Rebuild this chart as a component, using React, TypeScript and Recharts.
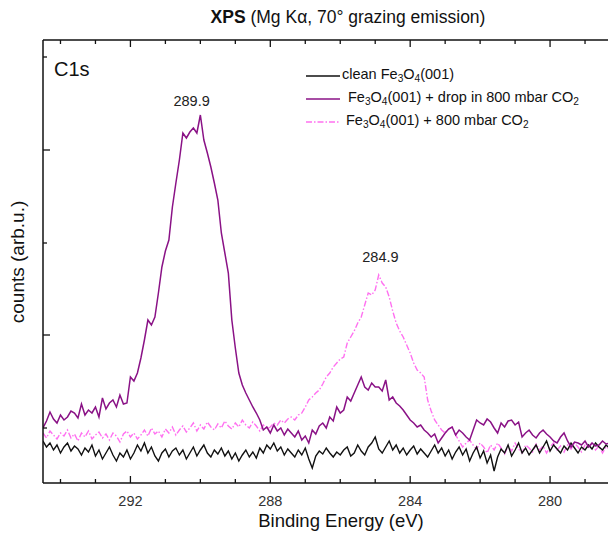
import React from 'react';
import { LineChart, Line, XAxis, YAxis, ReferenceDot } from 'recharts';

// binding energy grid (eV), 0.1 eV steps from 294.5 down to 278.3
const ENERGY_START = 294.5;
const ENERGY_STEP = 0.1;

const cleanFe3O4 = [
  42, 36, 40, 33, 38, 30, 36, 40, 32, 37,
  34, 28, 35, 31, 38, 27, 33, 24, 30, 36,
  28, 22, 30, 26, 33, 24, 30, 38, 32, 40,
  30, 36, 27, 22, 30, 34, 26, 32, 35, 28,
  33, 24, 30, 36, 27, 33, 38, 30, 26, 33,
  29, 35, 27, 32, 24, 30, 22, 28, 33, 26,
  31, 25, 35, 30, 38, 34, 40, 32, 36, 28,
  34, 30, 26, 33, 28, 35, 24, 15, 27, 32,
  29, 35, 30, 26, 31, 28, 33, 36, 27, 30,
  38, 32, 28, 36, 40, 46, 34, 30, 36, 42,
  33, 38, 30, 35, 28, 33, 37, 29, 34, 30,
  26, 32, 38, 30, 35, 27, 33, 24, 31, 36,
  28, 34, 22, 30, 36, 25, 32, 20, 28, 12,
  26, 34, 30, 38, 27, 33, 40, 30, 35, 28,
  33, 38, 30, 36, 42, 32, 38, 34, 30, 37,
  33, 40, 35, 30, 36, 33, 38, 34, 40, 36,
  33, 38, 35,
];

const dropInCO2 = [
  55, 62, 71, 64, 60, 68, 63, 66, 72, 70,
  65, 79, 68, 73, 70, 76, 66, 85, 74, 80,
  83, 76, 88, 79, 80, 106, 102, 110, 125, 143,
  163, 158, 166, 190, 216, 232, 243, 276, 300, 323,
  350, 345, 351, 355, 350, 368, 343, 330, 316, 300,
  283, 250, 230, 210, 163, 135, 110, 98, 90, 83,
  76, 70, 63, 53, 56, 50, 58, 52, 55, 48,
  54, 50, 46, 52, 43, 47, 40, 53, 49, 57,
  60, 55, 66, 62, 76, 70, 73, 86, 82, 90,
  98, 106, 96, 93, 100, 96, 96, 92, 103, 83,
  86, 80, 77, 73, 68, 63, 60, 56, 58, 53,
  50, 46, 49, 40, 45, 50, 54, 56, 48, 53,
  50, 46, 43, 53, 63, 60, 58, 64, 61, 55,
  50, 60, 56, 62, 63, 58, 61, 46, 50, 53,
  48, 45, 50, 53, 49, 46, 42, 40, 46, 50,
  42, 36, 41, 40, 38, 42, 36, 40, 37, 38,
  42, 39, 40,
];

const inCO2 = [
  50, 45, 52, 48, 44, 50, 47, 53, 45, 49,
  42, 50, 46, 52, 44, 48, 51, 45, 49, 43,
  50, 47, 41, 49, 52, 46, 50, 44, 48, 53,
  47, 55, 49, 52, 46, 54, 50, 56, 48, 53,
  57, 51, 55, 60, 52, 58, 54, 61, 56, 53,
  59, 55, 62, 57, 54, 60, 56, 63, 58, 55,
  61, 57, 52, 58, 54, 56, 60, 58, 63, 60,
  64, 66, 63, 68, 70, 76, 83, 86, 90, 93,
  99, 106, 110, 116, 120, 124, 126, 140, 146, 152,
  160, 166, 178, 190, 188, 193, 208, 200, 196, 186,
  172, 160, 152, 146, 138, 130, 120, 113, 110, 106,
  83, 72, 63, 58, 53, 50, 54, 56, 48, 42,
  36, 40, 43, 38, 34, 40, 36, 30, 38, 33,
  40, 35, 29, 37, 32, 40, 34, 30, 38, 35,
  31, 39, 33, 37, 30, 36, 40, 33, 37, 31,
  38, 34, 40, 36, 31, 38, 35, 40, 33, 37,
  30, 36, 34,
];

const X_TICKS = [294, 293, 292, 291, 290, 289, 288, 287, 286, 285, 284, 283, 282, 281, 280, 279];
const X_MAJOR = [292, 288, 284, 280];
const Y_TICKS = [55, 148, 240, 333, 426];
const Y_MAJOR = [148, 333];

const peaks = [
  { label: '289.9', energy: 290.25, counts: 368, offset: 9 },
  { label: '284.9', energy: 284.85, counts: 208, offset: 13 },
];

const data = cleanFe3O4.map((v, i) => ({
  energy: +(ENERGY_START - i * ENERGY_STEP).toFixed(1),
  clean: v,
  drop: dropInCO2[i],
  gas: inCO2[i],
}));

const FONT = '"Liberation Sans", Arial, sans-serif';
const BLACK = '#111111';
const PURPLE = '#8a1286';
const PINK = '#ff70f0';

const BottomTick = (props: any) => {
  const { x, y, payload } = props;
  const major = X_MAJOR.includes(payload.value);
  return (
    <g>
      <line x1={x} x2={x} y1={y} y2={y - (major ? 7 : 4)} stroke={BLACK} strokeWidth={1.3} />
      {major && (
        <text x={x} y={y + 23} textAnchor="middle" fontSize={14.5} fill="#333" fontFamily={FONT}>
          {payload.value}
        </text>
      )}
    </g>
  );
};

const TopTick = (props: any) => {
  const { x, y, payload } = props;
  const major = X_MAJOR.includes(payload.value);
  return <line x1={x} x2={x} y1={y} y2={y + (major ? 7 : 4)} stroke={BLACK} strokeWidth={1.3} />;
};

const LeftTick = (props: any) => {
  const { x, y, payload } = props;
  const major = Y_MAJOR.includes(payload.value);
  return <line x1={x} x2={x + (major ? 7 : 4)} y1={y} y2={y} stroke={BLACK} strokeWidth={1.3} />;
};

const Sub = ({ children }: { children: React.ReactNode }) => (
  <span style={{ fontSize: '0.7em', verticalAlign: '-0.3em' }}>{children}</span>
);

const legendRows = [
  { color: BLACK, dash: undefined, text: <>clean Fe<Sub>3</Sub>O<Sub>4</Sub>(001)</>, indent: 0 },
  { color: PURPLE, dash: undefined, text: <>Fe<Sub>3</Sub>O<Sub>4</Sub>(001) + drop in 800 mbar CO<Sub>2</Sub></>, indent: 6 },
  { color: PINK, dash: '6 2 1.5 2', text: <>Fe<Sub>3</Sub>O<Sub>4</Sub>(001) + 800 mbar CO<Sub>2</Sub></>, indent: 4 },
];

export default function App() {
  return (
    <div style={{ position: 'absolute', left: 0, top: 0, width: 608, height: 537, overflow: 'hidden', background: '#fff', fontFamily: FONT }}>
      <LineChart width={620} height={537} data={data} margin={{ top: 20, right: 0, bottom: 24, left: 13 }}>
        <XAxis
          dataKey="energy"
          type="number"
          domain={[278, 294.5]}
          reversed
          allowDataOverflow
          ticks={X_TICKS}
          interval={0}
          height={30}
          tickSize={0}
          tickMargin={0}
          tickLine={false}
          tick={<BottomTick />}
          axisLine={{ stroke: BLACK, strokeWidth: 1.5 }}
        />
        <XAxis
          xAxisId="top"
          orientation="top"
          dataKey="energy"
          type="number"
          domain={[278, 294.5]}
          reversed
          allowDataOverflow
          ticks={X_TICKS}
          interval={0}
          height={20}
          tickSize={0}
          tickMargin={0}
          tickLine={false}
          tick={<TopTick />}
          axisLine={{ stroke: BLACK, strokeWidth: 1.5 }}
        />
        <YAxis
          type="number"
          domain={[0, 443]}
          allowDataOverflow
          ticks={Y_TICKS}
          interval={0}
          width={30}
          tickSize={0}
          tickMargin={0}
          tickLine={false}
          tick={<LeftTick />}
          axisLine={{ stroke: BLACK, strokeWidth: 1.5 }}
        />
        <Line dataKey="gas" type="linear" stroke={PINK} strokeWidth={1.4} strokeDasharray="6 2 1.5 2" dot={false} isAnimationActive={false} />
        <Line dataKey="clean" type="linear" stroke={BLACK} strokeWidth={1.4} dot={false} isAnimationActive={false} />
        <Line dataKey="drop" type="linear" stroke={PURPLE} strokeWidth={1.5} dot={false} isAnimationActive={false} />
        {peaks.map(p => (
          <ReferenceDot
            key={p.label}
            x={p.energy}
            y={p.counts}
            r={0}
            stroke="none"
            label={{ value: p.label, position: 'top', offset: p.offset, fontSize: 14.5, fill: '#222', fontFamily: FONT }}
          />
        ))}
      </LineChart>

      {/* title */}
      <div style={{ position: 'absolute', top: 7, left: 348, transform: 'translateX(-50%)', fontSize: 17.5, color: '#111', whiteSpace: 'nowrap' }}>
        <b>XPS</b> (Mg Kα, 70° grazing emission)
      </div>
      {/* panel tag */}
      <div style={{ position: 'absolute', top: 58, left: 54, fontSize: 20, color: '#111' }}>C1s</div>
      {/* axis titles */}
      <div style={{ position: 'absolute', top: 510, left: 341, transform: 'translateX(-50%)', fontSize: 18.5, color: '#111', whiteSpace: 'nowrap' }}>
        Binding Energy (eV)
      </div>
      <div style={{ position: 'absolute', left: 18, top: 262, transform: 'translate(-50%, -50%) rotate(-90deg)', fontSize: 19, color: '#111', whiteSpace: 'nowrap' }}>
        counts (arb.u.)
      </div>
      {/* legend */}
      <div style={{ position: 'absolute', left: 306, top: 64, fontSize: 14.5, color: '#111' }}>
        {legendRows.map((r, i) => (
          <div key={i} style={{ display: 'flex', alignItems: 'center', height: 23, whiteSpace: 'nowrap' }}>
            <svg width={34} height={6} style={{ marginRight: 2 + r.indent }}>
              <line x1={0} x2={34} y1={3} y2={3} stroke={r.color} strokeWidth={1.5} strokeDasharray={r.dash} />
            </svg>
            <span>{r.text}</span>
          </div>
        ))}
      </div>
    </div>
  );
}
